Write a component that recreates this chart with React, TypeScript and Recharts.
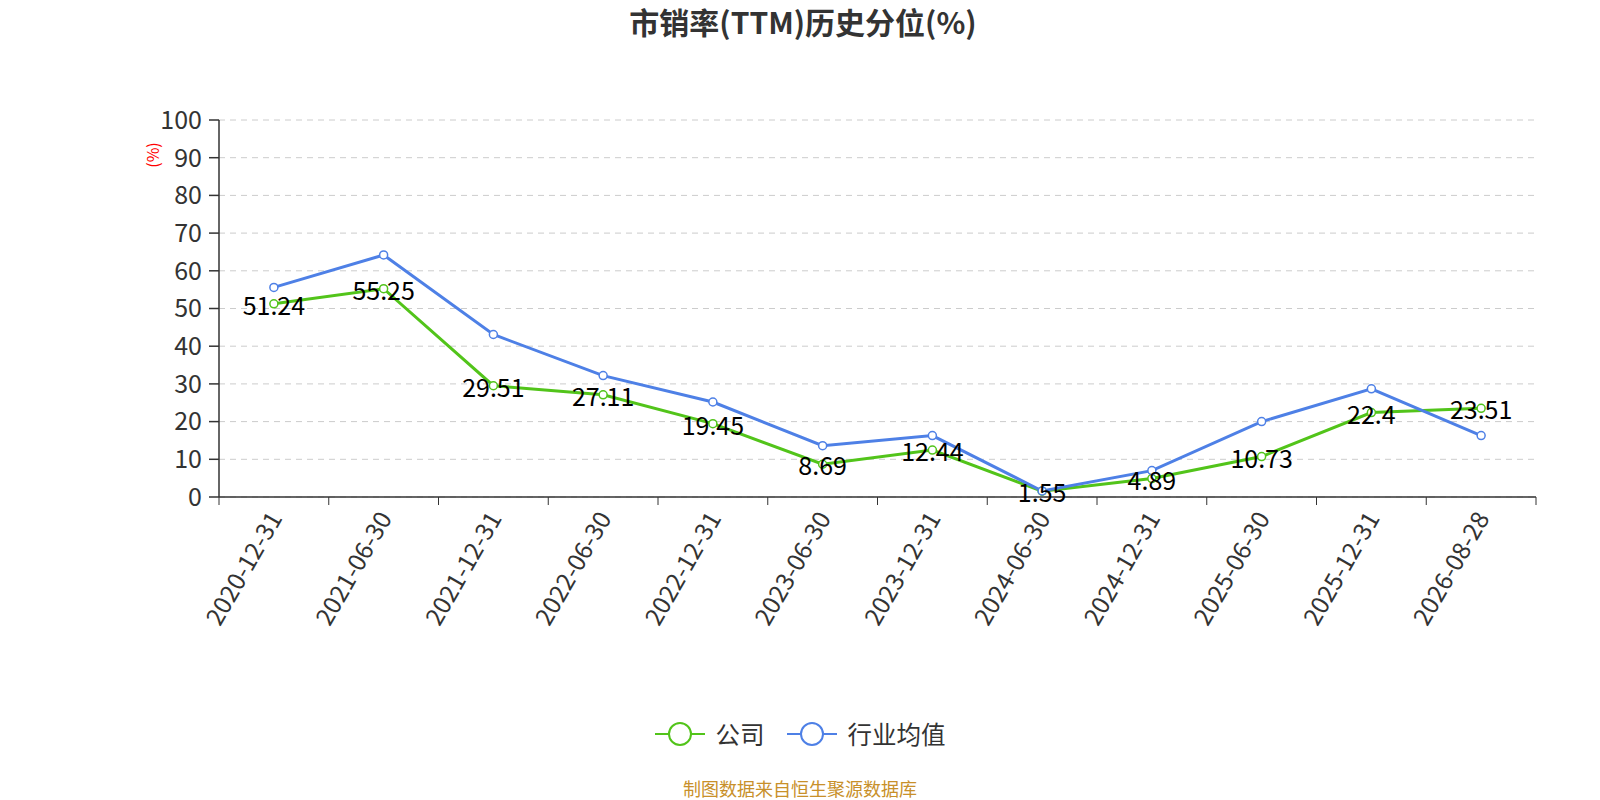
import React from "react";
import { LineChart, Line, XAxis, YAxis, CartesianGrid, LabelList } from "recharts";

const dates = [
  "2020-12-31", "2021-06-30", "2021-12-31", "2022-06-30", "2022-12-31", "2023-06-30",
  "2023-12-31", "2024-06-30", "2024-12-31", "2025-06-30", "2025-12-31", "2026-08-28",
];
const company = [51.24, 55.25, 29.51, 27.11, 19.45, 8.69, 12.44, 1.55, 4.89, 10.73, 22.4, 23.51];
const industry = [55.6, 64.2, 43.1, 32.2, 25.2, 13.6, 16.3, 1.6, 7.0, 20.0, 28.7, 16.3];
const yTicks = [0, 10, 20, 30, 40, 50, 60, 70, 80, 90, 100];

const GREEN = "#52c41a";
const BLUE = "#4e80e6";
const FONT = '"Noto Sans CJK SC", "Noto Sans", sans-serif';

const data = dates.map((d, i) => ({ date: d, company: company[i], industry: industry[i] }));

// category ticks: label rotated, tick mark on the band boundary like echarts
function XTick(props: any) {
  const { x, y, payload, index } = props;
  const off = payload.offset || (1536 - 219) / dates.length / 2;
  const last = index === dates.length - 1;
  return (
    <g>
      <line x1={x - off} x2={x - off} y1={y - 8} y2={y} stroke="#333" />
      {last && <line x1={x + off} x2={x + off} y1={y - 8} y2={y} stroke="#333" />}
      <text
        x={x}
        y={y + 8}
        transform={`rotate(-60 ${x} ${y + 8})`}
        textAnchor="end"
        dominantBaseline="central"
        fontSize={24.5}
        fill="#333"
        fontFamily={FONT}
      >
        {payload.value}
      </text>
    </g>
  );
}

function LegendBox() {
  const items = [
    { name: "公司", color: GREEN },
    { name: "行业均值", color: BLUE },
  ];
  return (
    <div style={{ position: "absolute", top: 716, left: 0, width: 1600, display: "flex", justifyContent: "center", gap: 22 }}>
      {items.map((it) => (
        <div key={it.name} style={{ display: "flex", alignItems: "center" }}>
          <svg width={50} height={26}>
            <line x1={0} x2={50} y1={13} y2={13} stroke={it.color} strokeWidth={2} />
            <circle cx={25} cy={13} r={11} fill="#fff" stroke={it.color} strokeWidth={2} />
          </svg>
          <span style={{ fontSize: 24.5, color: "#333", marginLeft: 11 }}>{it.name}</span>
        </div>
      ))}
    </div>
  );
}

function ValueLabel(props: any) {
  const { x, y, value } = props;
  return (
    <text x={x} y={y} textAnchor="middle" dominantBaseline="central" fontSize={25} fill="#000" fontFamily={FONT}>
      {value}
    </text>
  );
}

export default function App() {
  return (
    <div style={{ position: "absolute", left: 0, top: 0, width: 1600, height: 800, background: "#fff", fontFamily: FONT }}>
      <div style={{ position: "absolute", top: -1, width: 1606, textAlign: "center", fontSize: 30, fontWeight: "bold", color: "#333" }}>
        市销率(TTM)历史分位(%)
      </div>
      <LineChart width={1600} height={800} data={data} margin={{ top: 120, right: 64, left: 159, bottom: 163 }}>
        <CartesianGrid vertical={false} stroke="#ccc" strokeDasharray="6 5" />
        <XAxis
          dataKey="date"
          scale="band"
          height={140}
          interval={0}
          stroke="#333"
          strokeWidth={1.5}
          tickLine={false}
          tick={<XTick />}
        />
        <YAxis
          width={60}
          domain={[0, 100]}
          ticks={yTicks}
          stroke="#333"
          strokeWidth={1.5}
          tick={{ fontSize: 25, fill: "#333", fontFamily: FONT }}
          tickSize={10}
          tickMargin={7}
          label={{
            content: (p: any) => {
              const vb = p.viewBox;
              const lx = vb.x;
              const ly = vb.y + 35;
              return (
                <text x={lx} y={ly} transform={`rotate(-90 ${lx} ${ly})`} textAnchor="middle" fontSize={16} fill="#f00" fontFamily={FONT}>
                  (%)
                </text>
              );
            },
          }}
        />
        <Line
          type="linear"
          dataKey="company"
          name="公司"
          stroke={GREEN}
          strokeWidth={3}
          dot={{ r: 4, fill: "#fff", stroke: GREEN, strokeWidth: 1.5 }}
          isAnimationActive={false}
        >
          <LabelList dataKey="company" content={<ValueLabel />} />
        </Line>
        <Line
          type="linear"
          dataKey="industry"
          name="行业均值"
          stroke={BLUE}
          strokeWidth={3}
          dot={{ r: 4, fill: "#fff", stroke: BLUE, strokeWidth: 1.5 }}
          isAnimationActive={false}
        />
      </LineChart>
      <LegendBox />
      <div style={{ position: "absolute", top: 775, width: 1600, textAlign: "center", fontSize: 18, color: "#c8902a" }}>
        制图数据来自恒生聚源数据库
      </div>
    </div>
  );
}
